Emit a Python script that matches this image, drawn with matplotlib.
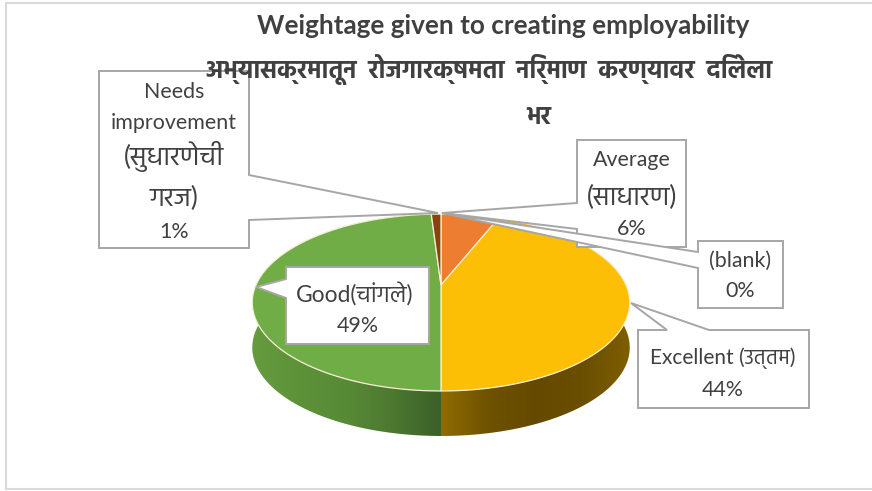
import numpy as np
import matplotlib
matplotlib.use('Agg')
import matplotlib.pyplot as plt
from matplotlib.colors import LinearSegmentedColormap
from matplotlib.patches import Polygon

# Data
CATEGORIES = ['Average', 'Excellent', 'Good', 'Needs improvement', 'blank']
VALUES = [6, 44, 49, 1, 0]
COLORS = ['#ED7D31', '#FDBF05', '#70AD47', '#8A420F', '#5B9BD5']

TITLE_1 = 'Weightage given to creating employability'
TITLE_2 = 'अभ्यासक्रमातून  रोजगारक्षमता  निर्माण  करण्यावर  दिलेला'
TITLE_3 = 'भर'

LATIN = ['Lato', 'Hind', 'DejaVu Sans']
TXT = '#404040'
LINE = '#A6A6A6'

# Pie geometry (pixels), with a little perspective
CX, CY = 441, 285
A, B, K = 185, 85, 0.198
DEPTH = 45


def pie_xy(theta, dy=0):
    # theta in degrees, clockwise from the top
    t = np.radians(theta)
    u, v = np.sin(t), np.cos(t)
    w = 1 + K * v
    return CX + A * u / w, CY - B * v / w + dy


fig = plt.figure(figsize=(8.72, 4.91), dpi=100)
ax = fig.add_axes([0, 0, 1, 1])
ax.axis('off')

# Chart frame
ax.plot([872, 6, 6, 872], [2.5, 2.5, 489, 489], color='#D9D9D9', lw=1.5, zorder=1)

# Title (sits over the callout boxes)
ax.text(503, 26, TITLE_1, ha='center', va='center', fontsize=18.8, fontweight='bold',
        color=TXT, family=LATIN, zorder=7)
ax.text(489, 69, TITLE_2, ha='center', va='center', fontsize=17.7, fontweight='bold',
        color=TXT, family=LATIN, zorder=7)
ax.text(539, 116, TITLE_3, ha='center', va='center', fontsize=17.7, fontweight='bold',
        color=TXT, family=LATIN, zorder=7)

# Slice angles from the values
total = sum(VALUES)
edges = np.cumsum([0] + VALUES) / total * 360

# Side wall with gradients
wall_cmaps = {
    'Excellent': ['#8F6C00', '#6E5200', '#644A00', '#6A4F00', '#7E5E00'],
    'Good': ['#669B40', '#5E9239', '#588A36', '#4C7830', '#3C6029'],
}
for name, colors in wall_cmaps.items():
    i = CATEGORIES.index(name)
    th = np.linspace(edges[i], edges[i + 1], 120)
    xt, yt = pie_xy(th)
    xb, yb = pie_xy(th, DEPTH)
    poly = Polygon(np.column_stack([np.r_[xt, xb[::-1]], np.r_[yt, yb[::-1]]]),
                   closed=True, transform=ax.transData, fc='none', ec='none')
    ax.add_patch(poly)
    x0, x1 = min(xt.min(), xb.min()), max(xt.max(), xb.max())
    if name == 'Excellent':
        x0 = xb[-1]
    else:
        x1 = xb[0]
    cmap = LinearSegmentedColormap.from_list(name, colors)
    img = ax.imshow(np.linspace(0, 1, 200).reshape(1, -1), cmap=cmap, aspect='auto',
                    extent=[x0, x1, 450, 200], zorder=3)
    img.set_clip_path(poly)

# Top surface
for i, v in enumerate(VALUES):
    if v == 0:
        continue
    th = np.linspace(edges[i], edges[i + 1], 120)
    x, y = pie_xy(th)
    ax.fill(np.r_[CX, x], np.r_[CY, y], color=COLORS[i], ec='#F6EFD6', lw=0.9, zorder=4)


def callout(pts, lines):
    ax.add_patch(Polygon(pts, closed=True, fc='white', ec=LINE, lw=1.4, zorder=5,
                         joinstyle='miter'))
    for tx, ty, s, fs in lines:
        ax.text(tx, ty, s, ha='center', va='center', fontsize=fs, color=TXT,
                family=LATIN, zorder=6)


# Data labels (callouts)
callout([(638, 330), (667, 330), (631, 303), (709, 330), (809, 330), (809, 408), (638, 408)],
        [(723, 358, 'Excellent (उत्तम)', 15), (723, 390, '%d%%' % VALUES[1], 15.4)])
callout([(286, 267), (429, 267), (429, 344), (286, 344), (286, 298), (256, 287), (286, 279)],
        [(355, 294, 'Good(चांगले)', 16.4), (358, 326, '%d%%' % VALUES[2], 15.4)])
callout([(99, 71), (249, 71), (249, 175), (438, 213), (249, 220), (249, 248), (99, 248)],
        [(174, 92, 'Needs', 15.4), (174, 123, 'improvement', 15.4), (174, 157, '(सुधारणेची', 19),
         (174, 198, 'गरज)', 19), (174, 232, '%d%%' % VALUES[3], 15.4)])
callout([(577, 140), (686, 140), (686, 247), (577, 247), (577, 229), (442, 213), (577, 203)],
        [(632, 160, 'Average', 15.4), (632, 197, '(साधारण)', 19), (632, 229, '%d%%' % VALUES[0], 15.4)])
callout([(698, 241), (783, 241), (783, 308), (698, 308), (698, 268), (442, 213), (698, 252)],
        [(740, 261, '(blank)', 15.4), (740, 291, '%d%%' % VALUES[4], 15.4)])

ax.set_xlim(0, 872)
ax.set_ylim(491, 0)

fig.savefig('out.png', dpi=100)
